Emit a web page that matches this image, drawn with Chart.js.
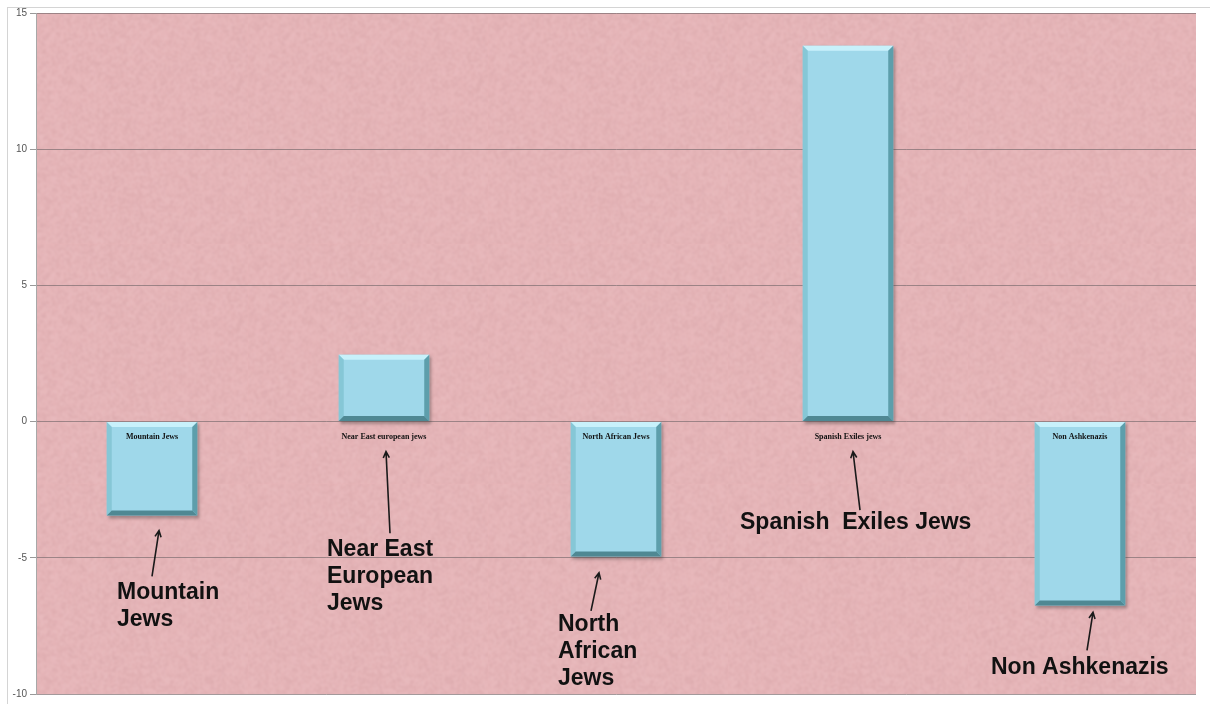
<!DOCTYPE html>
<html>
<head>
<meta charset="utf-8">
<script src="https://cdn.jsdelivr.net/npm/chart.js@4/dist/chart.umd.min.js"></script>
<style>
  html, body { margin: 0; padding: 0; background: #fff; }
  #box {
    position: absolute; left: 7px; top: 7px;
    width: 1202px; height: 696px;
    border: 1px solid #d4d4d4; border-right: none; border-bottom: none;
  }
  #chart { position: absolute; left: 0; top: -4px; }
</style>
</head>
<body>
<div id="box"><canvas id="chart" width="1202" height="700"></canvas></div>
<script>
// groups and their values
let groups = ['Mountain Jews', 'Near East european jews', 'North African Jews', 'Spanish Exiles jews', 'Non Ashkenazis'];
let values = [-3.45, 2.45, -4.95, 13.8, -6.75];
let yTicks = [-10, -5, 0, 5, 10, 15];

// big callouts: lines of text, text anchor (px offset from bar centre, y value),
// arrow from tail to head (px offset, y value)
let calloutText = [
    ['Mountain', 'Jews'],
    ['Near East', 'European', 'Jews'],
    ['North', 'African', 'Jews'],
    ['Spanish  Exiles Jews'],
    ['Non Ashkenazis']
];
let calloutAt = [[-35, -6.5], [-57, -4.95], [-58, -7.7], [-108, -3.95], [-89, -9.25]];
let arrowFrom = [[0, -5.68], [6, -4.1], [-25, -6.95], [12, -3.25], [7, -8.4]];
let arrowTo = [[7, -4.0], [2, -1.1], [-17, -5.55], [5, -1.1], [13, -7.0]];

// paper-like texture for the plot area (hashed noise, smoothed)
function makeTexture() {
    let w = 240, h = 240;
    let c = document.createElement('canvas');
    c.width = w; c.height = h;
    let g = c.getContext('2d');
    g.fillStyle = '#e6b5b8';
    g.fillRect(0, 0, w, h);
    for (let y = 0; y < h; y += 2) {
        for (let x = 0; x < w; x += 2) {
            let n = Math.sin(x * 12.9898 + y * 78.233) * 43758.5453;
            n = n - Math.floor(n);
            let a = (n - 0.5) * 0.22;
            g.fillStyle = a > 0 ? 'rgba(255,235,238,' + a + ')' : 'rgba(150,100,105,' + (-a) + ')';
            g.fillRect(x, y, 2, 2);
        }
    }
    let out = document.createElement('canvas');
    out.width = w; out.height = h;
    let o = out.getContext('2d');
    o.filter = 'blur(0.8px)';
    o.drawImage(c, 0, 0);
    return out;
}
let texture = makeTexture();

let background = {
    id: 'background',
    beforeDraw(chart) {
        let a = chart.chartArea, ctx = chart.ctx;
        ctx.save();
        ctx.fillStyle = '#e6b5b8';
        ctx.fillRect(a.left, a.top, a.right - a.left, a.bottom - a.top);
        ctx.fillStyle = ctx.createPattern(texture, 'repeat');
        ctx.fillRect(a.left, a.top, a.right - a.left, a.bottom - a.top);
        ctx.restore();
    },
    beforeDatasetsDraw(chart) {
        let ctx = chart.ctx;
        ctx.save();
        ctx.fillStyle = 'rgba(70,60,60,0.4)';
        ctx.filter = 'blur(1.5px)';
        chart.getDatasetMeta(0).data.forEach((bar) => {
            let top = Math.min(bar.y, bar.base), bottom = Math.max(bar.y, bar.base);
            ctx.fillRect(bar.x - bar.width / 2 + 2, top + 2, bar.width, bottom - top + 1);
        });
        ctx.restore();
    }
};

// bevelled edges on each bar plus the small labels next to the zero line
let bevel = {
    id: 'bevel',
    afterDatasetsDraw(chart) {
        let ctx = chart.ctx;
        let y0 = chart.scales.y.getPixelForValue(0);
        let b = 5;
        chart.getDatasetMeta(0).data.forEach((bar, i) => {
            let l = bar.x - bar.width / 2, r = bar.x + bar.width / 2;
            let t = Math.min(bar.y, bar.base), btm = Math.max(bar.y, bar.base);
            let quad = (pts, col) => {
                ctx.fillStyle = col;
                ctx.beginPath();
                ctx.moveTo(pts[0], pts[1]);
                for (let k = 2; k < pts.length; k += 2) ctx.lineTo(pts[k], pts[k + 1]);
                ctx.closePath();
                ctx.fill();
            };
            ctx.save();
            quad([l, t, r, t, r - b, t + b, l + b, t + b], '#c8f1fb');
            quad([l, t, l + b, t + b, l + b, btm - b, l, btm], '#86c7d6');
            quad([r, t, r, btm, r - b, btm - b, r - b, t + b], '#5d9eab');
            quad([l, btm, r, btm, r - b, btm - b, l + b, btm - b], '#4f8893');
            ctx.restore();

            ctx.save();
            ctx.font = 'bold 8px "Liberation Serif"';
            ctx.fillStyle = '#111';
            ctx.textAlign = 'center';
            ctx.textBaseline = 'middle';
            ctx.fillText(groups[i], bar.x, y0 + 15);
            ctx.restore();
        });
    }
};

let callouts = {
    id: 'callouts',
    afterDraw(chart) {
        let ctx = chart.ctx, xs = chart.scales.x, ys = chart.scales.y;
        ctx.save();
        ctx.fillStyle = '#111';
        ctx.strokeStyle = '#1a1a1a';
        ctx.font = 'bold 23px "Liberation Sans"';
        ctx.textBaseline = 'alphabetic';
        calloutText.forEach((lines, i) => {
            let cx = xs.getPixelForValue(i);
            let tx = cx + calloutAt[i][0], ty = ys.getPixelForValue(calloutAt[i][1]);
            lines.forEach((line, k) => ctx.fillText(line, tx, ty + k * 27));

            let x1 = cx + arrowFrom[i][0], y1 = ys.getPixelForValue(arrowFrom[i][1]);
            let x2 = cx + arrowTo[i][0], y2 = ys.getPixelForValue(arrowTo[i][1]);
            ctx.lineWidth = 1.6;
            ctx.beginPath();
            ctx.moveTo(x1, y1);
            ctx.lineTo(x2, y2);
            let ang = Math.atan2(y2 - y1, x2 - x1);
            ctx.moveTo(x2 - 7 * Math.cos(ang - 0.45), y2 - 7 * Math.sin(ang - 0.45));
            ctx.lineTo(x2, y2);
            ctx.lineTo(x2 - 7 * Math.cos(ang + 0.45), y2 - 7 * Math.sin(ang + 0.45));
            ctx.stroke();
        });
        ctx.restore();
    }
};

new Chart(document.getElementById('chart').getContext('2d'), {
    type: 'bar',
    data: {
        labels: groups,
        datasets: [{
            data: values,
            backgroundColor: '#9fd8ea',
            borderWidth: 0,
            barPercentage: 0.39,
            categoryPercentage: 1
        }]
    },
    options: {
        responsive: false,
        animation: false,
        layout: { padding: { left: 0, top: 2, right: 14, bottom: 10 } },
        plugins: { legend: { display: false }, tooltip: { enabled: false } },
        scales: {
            x: { display: false },
            y: {
                min: -10,
                max: 15,
                afterBuildTicks: (scale) => { scale.ticks = yTicks.map((v) => ({ value: v })); },
                afterFit: (scale) => { scale.width = 28; },
                grid: { color: 'rgba(125,110,112,0.7)', tickLength: 6, tickColor: '#999' },
                border: { color: '#a8a8a8' },
                ticks: {
                    color: '#555',
                    padding: 3,
                    font: { family: 'Liberation Sans', size: 10 }
                }
            }
        }
    },
    plugins: [background, bevel, callouts]
});
</script>
</body>
</html>
